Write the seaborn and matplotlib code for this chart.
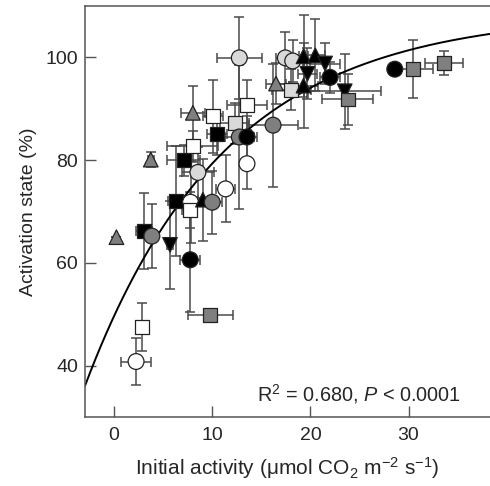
import numpy as np
import pandas as pd
import matplotlib
matplotlib.use("Agg")
import matplotlib.pyplot as plt
import seaborn as sns

# ---- data ----
x_vals = [2.24, 2.82, 0.24, 3.06, 3.85, 3.74, 5.7, 6.33, 7.1, 8.0, 8.03, 7.76, 9.8, 7.79, 7.7,
          8.54, 9.05, 10.0, 10.1, 10.5, 11.36, 12.76, 12.28, 12.76, 13.54, 13.54, 13.54, 16.2,
          16.5, 17.45, 18.2, 18.06, 19.3, 20.5, 19.7, 19.3, 21.5, 22.0, 23.5, 23.8, 28.6, 30.5, 33.6]
y_vals = [40.8, 47.5, 65.0, 66.2, 65.2, 80.1, 63.5, 72.0, 80.0, 82.7, 89.2, 60.6, 49.9, 71.8, 70.3,
          77.6, 72.3, 71.8, 88.5, 85.0, 74.4, 99.9, 87.2, 84.5, 90.7, 84.5, 79.3, 86.8,
          94.9, 99.9, 99.3, 93.7, 100.2, 100.4, 96.8, 94.5, 98.8, 96.1, 93.4, 91.8, 97.7, 97.7, 98.9]
x_err = [1.5, 0.0, 0.0, 0.8, 0.3, 0.3, 0.3, 0.8, 1.7, 2.6, 1.2, 1.0, 2.3, 1.0, 0.8,
         1.6, 0.5, 1.0, 1.0, 1.0, 1.0, 2.3, 1.5, 1.5, 2.0, 1.0, 0.5, 2.5,
         1.0, 1.0, 1.0, 2.0, 0.5, 1.0, 1.0, 1.5, 1.5, 1.0, 3.7, 2.6, 0.3, 2.0, 1.9]
y_err = [4.6, 4.6, 0.0, 7.4, 6.2, 1.5, 8.6, 10.7, 3.0, 3.0, 5.2, 10.2, 0.0, 8.0, 3.5,
         5.0, 8.0, 6.1, 7.1, 4.0, 6.5, 8.0, 4.0, 14.0, 4.8, 4.0, 4.9, 12.0,
         4.0, 5.0, 4.0, 4.0, 8.0, 7.0, 5.0, 8.3, 4.0, 3.0, 7.3, 5.0, 0.5, 5.6, 2.3]
shapes = ["o", "s", "^", "s", "o", "^", "v", "s", "s", "s", "^", "o", "s", "o", "s",
          "o", "^", "o", "s", "s", "o", "o", "s", "o", "s", "o", "o", "o",
          "^", "o", "o", "s", "^", "^", "v", "^", "v", "o", "v", "s", "o", "s", "s"]
fills = ["white", "white", "gray", "black", "gray", "gray", "black", "black", "black", "white",
         "gray", "black", "gray", "white", "white", "light", "black", "gray", "white", "black",
         "white", "light", "light", "gray", "white", "black", "white", "gray", "gray", "light",
         "light", "light", "black", "black", "black", "black", "black", "black", "black", "gray",
         "black", "gray", "gray"]

# fitted curve parameters: y = y0 + a * (1 - exp(-k x))
fit_y0, fit_a, fit_k = 49.65, 58.95, 0.07
annot_text = r"R$^2$ = 0.680, $P$ < 0.0001"

df = pd.DataFrame({"x": x_vals, "y": y_vals, "xerr": x_err, "yerr": y_err,
                   "shape": shapes, "fill": fills})

sns.set_style("ticks")
plt.rcParams["font.family"] = ["Liberation Sans", "DejaVu Sans"]
plt.rcParams["mathtext.fontset"] = "custom"
plt.rcParams["mathtext.rm"] = "Liberation Sans"
plt.rcParams["mathtext.it"] = "Liberation Sans:italic"
plt.rcParams["mathtext.bf"] = "Liberation Sans:bold"

fig = plt.figure(figsize=(4.9, 4.86), dpi=100)
ax = fig.add_axes([0.1735, 0.142, 0.8265, 0.8457])

xmin, xmax = -2.96, 38.3
ax.set_xlim(xmin, xmax)
ax.set_ylim(30, 110)

# fitted curve
xc = np.linspace(xmin, xmax, 300)
yc = fit_y0 + fit_a * (1 - np.exp(-fit_k * xc))
ax.plot(xc, yc, color="black", lw=1.4, zorder=2)

# error bars
ax.errorbar(df["x"], df["y"], xerr=df["xerr"], yerr=df["yerr"], fmt="none",
            ecolor="#4a4a4a", elinewidth=1.1, capsize=3.8, capthick=1.1, zorder=1)

palette = {"white": "white", "gray": "#7f7f7f", "light": "#d9d9d9", "black": "black"}
markers = {"o": "o", "s": "s", "^": "^", "v": "v"}
sizes = {"o": 130, "s": 100, "^": 110, "v": 110}
sns.scatterplot(data=df, x="x", y="y", hue="fill", style="shape", size="shape",
                palette=palette, markers=markers, sizes=sizes, edgecolor="#222222",
                linewidth=0.9, legend=False, ax=ax, zorder=3)

ax.text(35.3, 34.5, annot_text, ha="right", va="center", fontsize=14.3)

ax.set_xticks([0, 10, 20, 30])
ax.set_yticks([40, 60, 80, 100])
ax.tick_params(direction="in", length=8, width=1.0, color="#555555", labelsize=14, pad=5)
ax.tick_params(axis="x", pad=7)
for side in ["left", "bottom", "top"]:
    ax.spines[side].set_color("#555555")
    ax.spines[side].set_linewidth(1.1)
ax.spines["right"].set_visible(False)

ax.set_xlabel("Initial activity (\u03bcmol CO$_2$ m$^{-2}$ s$^{-1}$)", fontsize=15, labelpad=8)
ax.set_ylabel("Activation state (%)", fontsize=14, labelpad=6)

fig.savefig("out.png", dpi=100)
